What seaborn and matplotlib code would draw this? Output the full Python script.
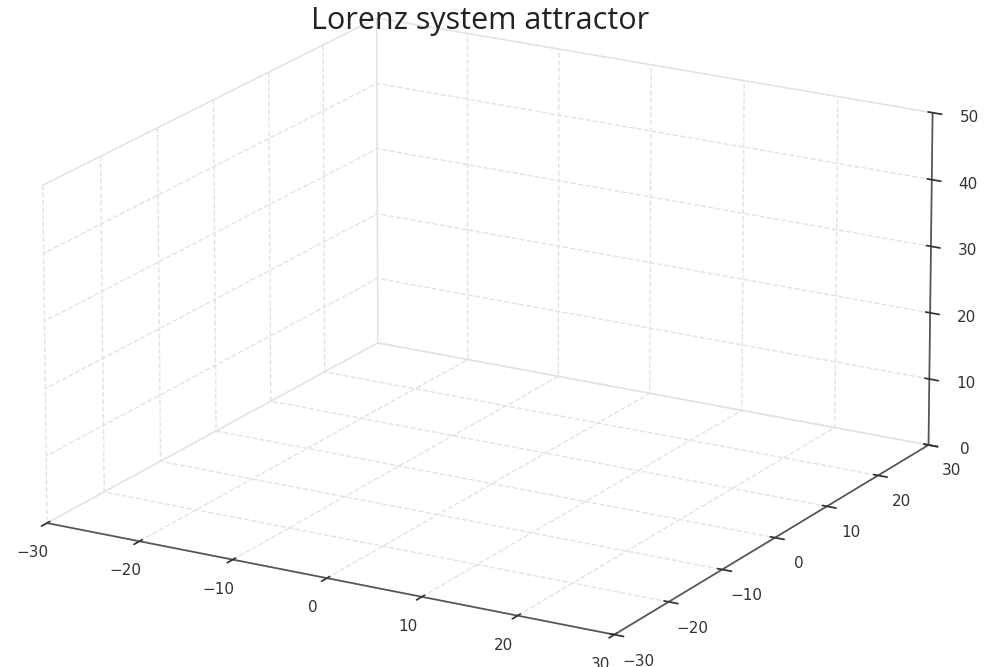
import numpy as np
import pandas as pd
import seaborn as sns
import matplotlib
matplotlib.use("Agg")
import matplotlib.pyplot as plt

title = "Lorenz system attractor"
x_ticks = [-30, -20, -10, 0, 10, 20, 30]
y_ticks = [-30, -20, -10, 0, 10, 20, 30]
z_ticks = [0, 10, 20, 30, 40, 50]
x_lim = (-30, 30)
y_lim = (-30, 30)
z_lim = (0, 50)

sns.set_theme(style="white")
plt.rcParams['font.family'] = ['DejaVu Sans']

fig = plt.figure(figsize=(10, 6.67), dpi=100)
ax = fig.add_axes([-0.068, -0.04, 1.1, 1.1], projection='3d')
ax.set_proj_type('persp', focal_length=3)
ax.view_init(elev=18.5, azim=-60)
ax.set_box_aspect((4, 4, 2.18), zoom=1.30)

ax.set_xlim(*x_lim)
ax.set_ylim(*y_lim)
ax.set_zlim(*z_lim)
ax.set_xticks(x_ticks)
ax.set_yticks(y_ticks)
ax.set_zticks(z_ticks)

for axis in (ax.xaxis, ax.yaxis, ax.zaxis):
    axis.set_pane_color((1, 1, 1, 1))
    axis.pane.set_edgecolor('#e6e6e6')
    axis._axinfo['grid'].update({'color': '#e3e3e3', 'linestyle': '--', 'linewidth': 1.0})
    axis.line.set_color('#555555')
    axis._axinfo['tick']['color'] = '#333333'
ax.zaxis.set_ticks_position('upper')
ax.zaxis.set_label_position('upper')
ax.tick_params(labelsize=11, colors='#333333')
ax.grid(True)

fig.text(0.48, 0.968, title, ha='center', va='center', fontsize=22,
         family=['Open Sans', 'DejaVu Sans'], color='#222222')

fig.savefig('out.png', dpi=100)
